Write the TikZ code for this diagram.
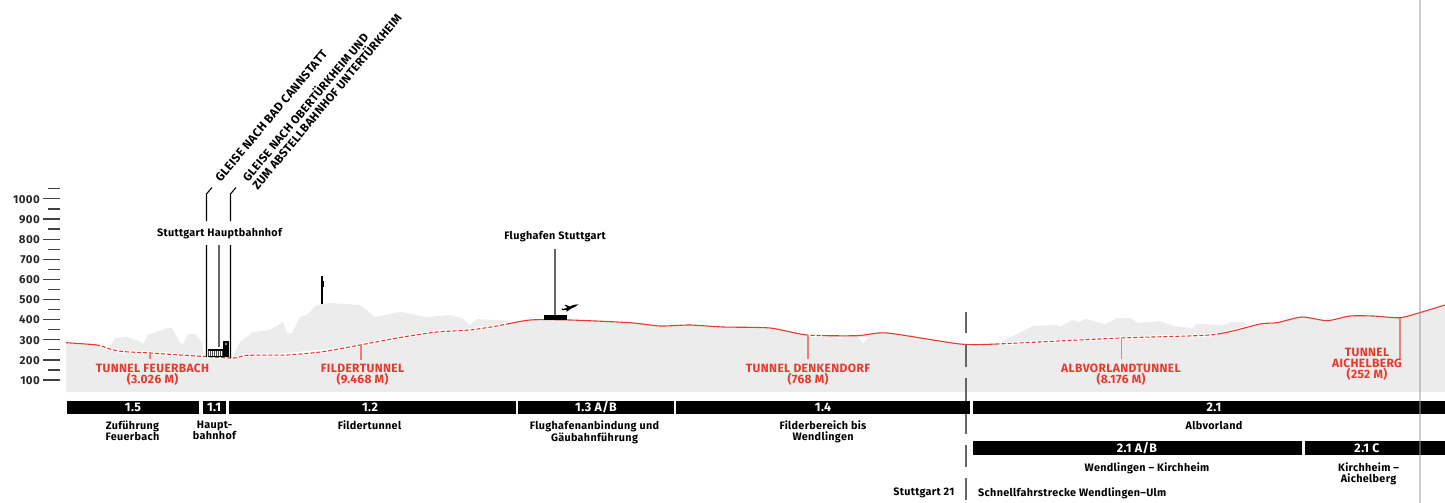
\documentclass[tikz,border=0pt]{standalone}
\usepackage{fontspec}
\setmainfont{Fira Sans}[BoldFont={* Bold},LetterSpace=3]
\definecolor{terrain}{HTML}{ECECEC}
\definecolor{tunnelred}{HTML}{E9392D}
\definecolor{darkgrey}{HTML}{666666}
\newcommand\profpath{plot[smooth,tension=.4] coordinates {(66,342.7) (97,345) (110,349) (122,351.5) (150,353) (180,355) (207,356.7) (230,358) (237,357.7) (247,355.3) (287,355) (323,351.7) (360,345) (403,337) (437,332) (470,330) (497,326) (530,320) (570,320) (630,322.7) (660,326) (690,325) (723,327) (770,328) (807,335) (857,335.7) (887,333) (960,344) (997,344) (1120,338) (1213,334.7) (1260,324) (1277,322.7) (1302,317) (1327,320.7) (1350,316) (1373,316) (1400,317.7) (1422,312) (1445,305)}}
\newcommand\tunnelclip{(100,0) rectangle (232,503) (232,0) rectangle (508,503) (807,0) rectangle (822,503) (997,0) rectangle (1217,503)}
\tikzset{
  x=1pt,y=-1pt,
  lbl/.style={font=\fontsize{10.8}{11}\selectfont\bfseries,text=black,inner sep=0,align=center},
  barlbl/.style={font=\fontsize{12.4}{12}\selectfont\bfseries,text=white,inner sep=0,align=center},
  redlbl/.style={font=\fontsize{12}{11}\selectfont\bfseries,text=tunnelred,inner sep=0,align=center},
  difflbl/.style={lbl,rotate=50,anchor=south west,align=left,font=\fontsize{12}{12.5}\selectfont\bfseries},
  difflbltwo/.style={lbl,rotate=50,anchor=south west,align=left,font=\fontsize{11.7}{12.5}\selectfont\bfseries},
  axlbl/.style={font=\fontsize{11.5}{12}\selectfont\bfseries,text=black!85,inner sep=0,anchor=east},
  tick/.style={draw=black!75,line width=1.2pt},
  leader/.style={draw=black,line width=1.1pt},
  midleader/.style={draw=darkgrey,line width=1.7pt},
  redtick/.style={draw=tunnelred!65,line width=1.2pt},
  barfill/.style={fill=black},
  divider/.style={draw=darkgrey,line width=2pt},
}
\begin{document}
\begin{tikzpicture}
\useasboundingbox (0,0) rectangle (1445,503);
% ground
\fill[terrain] \profpath -- (1445,392) -- (66,392) -- cycle;
% terrain above the tunnels
\fill[terrain] (108,350) -- (115,338) -- (127,337) -- (137,340) -- (143,344) -- (148,335) -- (167,328) -- (172,328) -- (180,343) -- (183,344) -- (188,334) -- (195,334) -- (202,342) -- (204,357) -- cycle;
\fill[terrain] (232,358) -- (240,342) -- (253,332) -- (270,330) -- (283,322) -- (287,333) -- (292,333) -- (300,317) -- (307,315) -- (315,306) -- (322,304) -- (330,303) -- (360,305) -- (375,317) -- (400,312) -- (427,317) -- (450,315) -- (462,318) -- (470,325) -- (477,319) -- (510,321) -- (497,327) -- (360,346) -- cycle;
\fill[terrain] (997,344) -- (1033,326) -- (1057,325) -- (1060,327) -- (1072,320) -- (1080,322) -- (1085,319) -- (1105,324) -- (1117,318) -- (1130,318) -- (1138,323) -- (1160,321) -- (1173,326) -- (1192,328) -- (1197,324) -- (1223,325) -- (1232,322) -- (1243,322) -- (1248,325) -- (1213,335) -- cycle;
% small notches below the line
\fill[white] (858,337) -- (863,343.5) -- (868,337) -- cycle;
\fill[white] (836,337) -- (840,339) -- (843,337) -- cycle;
\fill[white] (960,345) -- (972,347) -- (984,345) -- cycle;
% tunnels: white halo + dashes
\begin{scope}
\clip \tunnelclip;
\draw[white,line width=3pt] \profpath;
\draw[tunnelred,line width=1.1pt,dash pattern=on 4pt off 2pt] \profpath;
\end{scope}
% open line
\begin{scope}
\clip (0,0) rectangle (100,503) (508,0) rectangle (807,503) (822,0) rectangle (997,503) (1217,0) rectangle (1445,503);
\draw[tunnelred,line width=1.1pt] \profpath;
\end{scope}
% tunnel ticks
\coordinate (tf) at (150,353); \coordinate (tfb) at (150,359);
\coordinate (fi) at (361,345); \coordinate (fib) at (361,360);
\coordinate (de) at (808,335.5); \coordinate (deb) at (808,359);
\coordinate (al) at (1121.7,338); \coordinate (alb) at (1121.7,359);
\coordinate (ai) at (1400,318); \coordinate (aib) at (1400,359);
\draw[redtick] (tf) -- (tfb);
\draw[redtick] (fi) -- (fib);
\draw[redtick] (de) -- (deb);
\draw[redtick] (al) -- (alb);
\draw[redtick] (ai) -- (aib);
\node[redlbl] (nf) at (152.5,375) {TUNNEL FEUERBACH\\(3.026 M)};
\node[redlbl] (nfi) at (362.5,375) {FILDERTUNNEL\\(9.468 M)};
\node[redlbl] (nde) at (808,375) {TUNNEL DENKENDORF\\(768 M)};
\node[redlbl] (nal) at (1121,375) {ALBVORLANDTUNNEL\\(8.176 M)};
\node[redlbl] (nai) at (1367,364) {TUNNEL\\AICHELBERG\\(252 M)};
% axis
\foreach \v/\y in {100/380,200/360,300/339.7,400/319.6,500/299.4,600/279.3,700/259.2,800/239.1,900/218.9,1000/198.8}{
  \draw[tick] (43,\y) -- (60,\y);
  \node[axlbl] (ax\v) at (40,\y+.5) {\v};
}
\foreach \y in {370,349.8,329.6,309.5,289.4,269.2,249.1,229,208.9,188.7}{
  \draw[tick] (48,\y) -- (60,\y);
}
% Hauptbahnhof
\node[lbl] (hbf) at (219.5,234) {Stuttgart Hauptbahnhof};
\coordinate (l1a) at (212,187.5); \coordinate (l1b) at (206.5,194); \coordinate (l1c) at (206.5,221);
\coordinate (l1d) at (206.5,245); \coordinate (l1e) at (206.5,357);
\coordinate (l2a) at (236,187.5); \coordinate (l2b) at (230.5,194); \coordinate (l2c) at (230.5,221);
\coordinate (l2d) at (230.5,245); \coordinate (l2e) at (230.5,358);
\draw[leader] (l1a) -- (l1b) -- (l1c) (l1d) -- (l1e);
\draw[leader] (l2a) -- (l2b) -- (l2c) (l2d) -- (l2e);
\coordinate (l3a) at (219,245); \coordinate (l3b) at (219,347);
\draw[midleader] (l3a) -- (l3b);
\fill[black] (208,349) rectangle (223,350.5);
\fill[black] (208,355.5) rectangle (223,357);
\foreach \i in {0,...,7}{ \fill[black!70] (208+\i*2,350.5) rectangle (209+\i*2,355.5); }
\fill[black] (223,341) rectangle (228.5,357);
\fill[black!45] (225,343) rectangle (226.5,344.5);
\node[difflbl] (g1) at (221,183) {GLEISE NACH BAD CANNSTATT};
\node[difflbltwo] (g2) at (258,190.7) {GLEISE NACH OBERTÜRKHEIM UND\\ZUM ABSTELLBAHNHOF UNTERTÜRKHEIM};
% antenna
\fill[black] (321.2,276) rectangle (323,304);
\fill[black] (323,281) rectangle (324.2,287);
% airport
\node[lbl] (fh) at (555,237) {Flughafen Stuttgart};
\coordinate (a1) at (555,249); \coordinate (a2) at (555,315);
\draw[midleader] (a1) -- (a2);
\fill[black] (544,315) rectangle (567,320);
\fill[black] (578.5,304.3) -- (573,305) -- (570,306.5) -- (565.5,304.8) -- (564.5,305.2) -- (567.5,307.5) -- (563.5,309) -- (562,308.3) -- (561.5,308.8) -- (563,310.3) -- (567,309.7) -- (566,311.3) -- (567.5,311.2) -- (571,308.6) -- (575,306.8) -- cycle;
% divider
\coordinate (d1) at (965.5,312); \coordinate (d2) at (965.5,333);
\coordinate (d3) at (965.5,345); \coordinate (d4) at (965.5,367);
\coordinate (d5) at (965.5,378); \coordinate (d6) at (965.5,401);
\coordinate (d7) at (965.5,414); \coordinate (d8) at (965.5,434);
\coordinate (d9) at (965.5,445); \coordinate (d10) at (965.5,467);
\coordinate (d11) at (965.5,478); \coordinate (d12) at (965.5,500);
\draw[divider] (d1)--(d2) (d3)--(d4) (d5)--(d6) (d7)--(d8) (d9)--(d10) (d11)--(d12);
% bars
\fill[barfill] (66.7,400.7) rectangle (199,414);
\fill[barfill] (202.7,400.7) rectangle (225.7,414);
\fill[barfill] (229,400.7) rectangle (516,414);
\fill[barfill] (518,400.7) rectangle (673.5,414);
\fill[barfill] (676,400.7) rectangle (970,414);
\fill[barfill] (973,400.7) rectangle (1445,414);
\fill[barfill] (973,441) rectangle (1302,454.5);
\fill[barfill] (1304.5,441) rectangle (1445,454.5);
\node[barlbl] (b15) at (133,407.5) {1.5};
\node[barlbl] (b11) at (214,407.5) {1.1};
\node[barlbl] (b12) at (370,407.5) {1.2};
\node[barlbl] (b13) at (596,407.5) {1.3 A/B};
\node[barlbl] (b14) at (823,407.5) {1.4};
\node[barlbl] (b21) at (1214,407.5) {2.1};
\node[barlbl] (b21ab) at (1137,448) {2.1 A/B};
\node[barlbl] (b21c) at (1367,448) {2.1 C};
\node[lbl,anchor=north] (t15) at (132.5,420.5) {Zuführung\\Feuerbach};
\node[lbl,anchor=north] (t11) at (214.5,420.5) {Haupt-\\bahnhof};
\node[lbl,anchor=north] (t12) at (369.5,420.5) {Fildertunnel};
\node[lbl,anchor=north] (t13) at (594.5,420.5) {Flughafenanbindung und\\Gäubahnführung};
\node[lbl,anchor=north] (t14) at (823,420.5) {Filderbereich bis\\Wendlingen};
\node[lbl,anchor=north] (t21) at (1214,421) {Albvorland};
\node[lbl,anchor=north] (t21ab) at (1147,462.5) {Wendlingen – Kirchheim};
\node[lbl,anchor=north] (t21c) at (1368.5,462.5) {Kirchheim –\\Aichelberg};
\node[lbl,anchor=east] (s21) at (954.5,493) {Stuttgart 21};
\node[lbl,anchor=west] (sfs) at (978,493) {Schnellfahrstrecke Wendlingen–Ulm};
% page rule
\draw[black!40,opacity=.5,line width=1.5pt] (1420,0) -- (1420,503);
\end{tikzpicture}
\end{document}
